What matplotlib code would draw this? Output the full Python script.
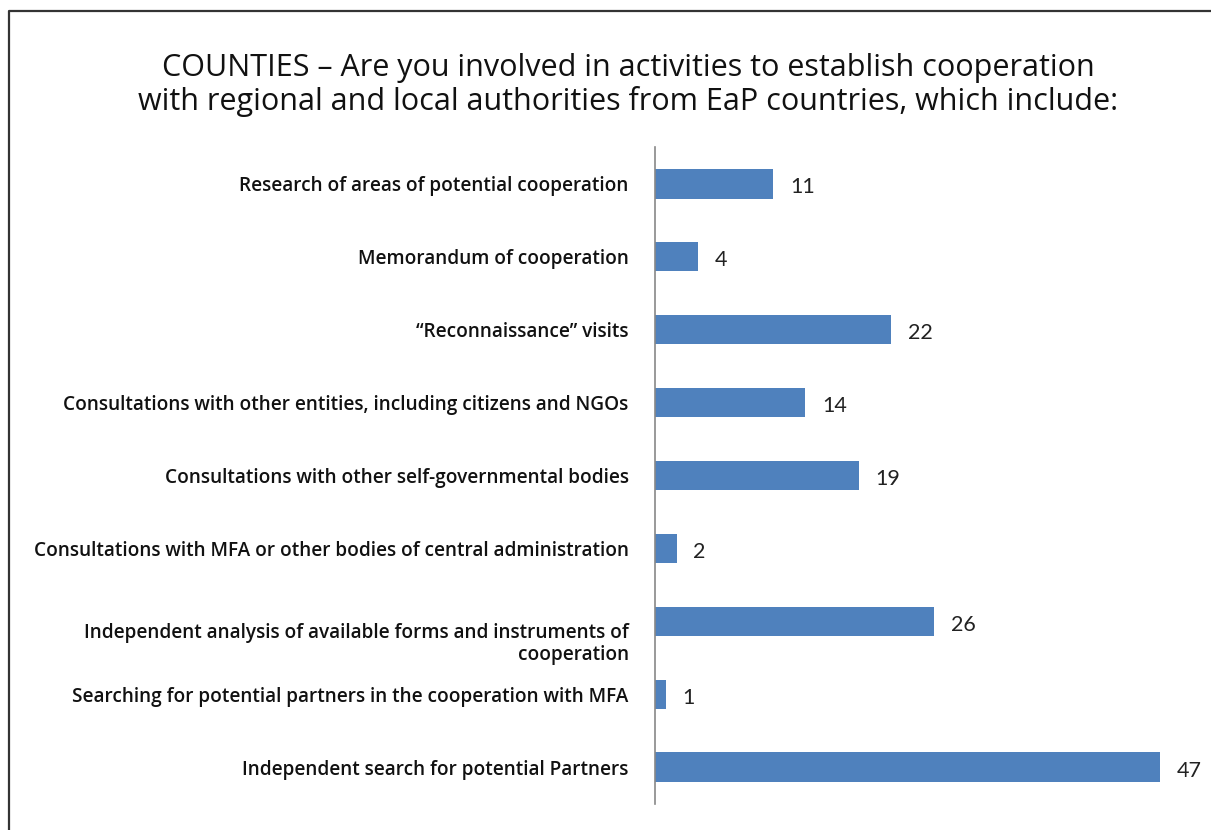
import matplotlib.pyplot as plt
from matplotlib.lines import Line2D
from matplotlib.transforms import ScaledTranslation

# survey answers, top to bottom as shown
activities = [
    "Research of areas of potential cooperation",
    "Memorandum of cooperation",
    "\u201cReconnaissance\u201d visits",
    "Consultations with other entities, including citizens and NGOs",
    "Consultations with other self-governmental bodies",
    "Consultations with MFA or other bodies of central administration",
    "Independent analysis of available forms and instruments of\ncooperation",
    "Searching for potential partners in the cooperation with MFA",
    "Independent search for potential Partners",
]
counts = [11, 4, 22, 14, 19, 2, 26, 1, 47]

title = ("COUNTIES \u2013 Are you involved in activities to establish cooperation\n"
         "with regional and local authorities from EaP countries, which include:")

fig = plt.figure(figsize=(12.11, 8.30), dpi=100)
ax = fig.add_axes([0.5409, 0.0319, 0.4435, 0.7904])

ypos = list(range(len(activities)))
bars = ax.barh(ypos, counts, height=0.4, color="#4F81BD")
ax.set_ylim(len(activities) - 0.5, -0.5)
ax.set_xlim(0, 50)

ax.set_yticks(ypos)
ax.set_yticklabels(activities, fontfamily="Open Sans", fontweight="semibold",
                   fontsize=13.7, color="#111111", ha="right",
                   multialignment="right", linespacing=1.15)
ax.tick_params(axis="y", length=0, pad=19)
ax.set_xticks([])

# the two-line label sits a little lower than its bar
wrapped = ax.get_yticklabels()[6]
wrapped.set_transform(wrapped.get_transform()
                      + ScaledTranslation(0, -14 / 72, fig.dpi_scale_trans))

for s in ["top", "right", "bottom"]:
    ax.spines[s].set_visible(False)
ax.spines["left"].set_color("#888888")
ax.spines["left"].set_linewidth(1.2)

for b, v in zip(bars, counts):
    ax.annotate(str(v), (b.get_width(), b.get_y() + b.get_height() / 2),
                xytext=(12, -2.5), textcoords="offset points", va="center",
                ha="left", fontsize=15.5, fontfamily="Lato", color="#222222")

fig.text(0.5186, 0.8976, title, ha="center", va="center", fontsize=22,
         fontfamily="Open Sans", fontweight="medium", color="#111111",
         linespacing=1.1)

# outer frame (left and top edges)
fig.add_artist(Line2D([9 / 1211, 9 / 1211, 1.0], [0.0, 1 - 11 / 830, 1 - 11 / 830],
                      transform=fig.transFigure, color="#333333", linewidth=1.6))

fig.savefig("out.png", dpi=100)
